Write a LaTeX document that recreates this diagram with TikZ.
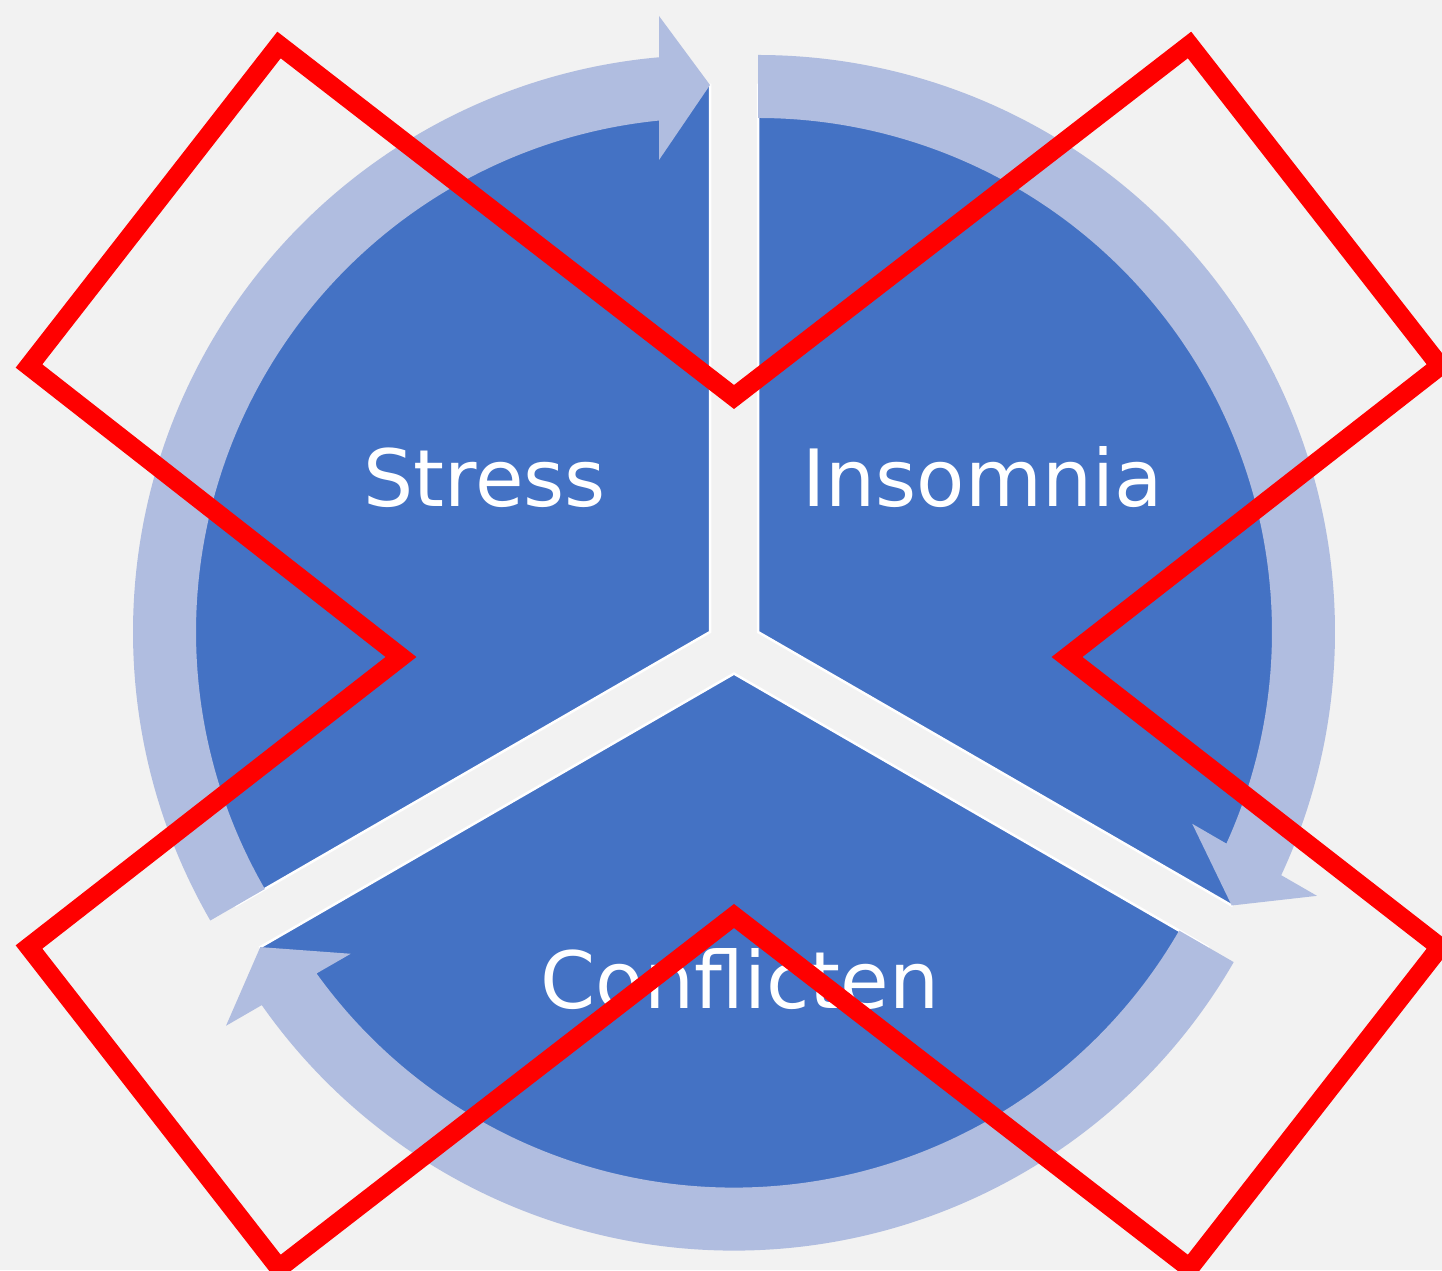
\documentclass[tikz,border=0pt]{standalone}
\usepackage{fontspec}
\setmainfont{DejaVu Sans}
\definecolor{segblue}{HTML}{4472C4}
\definecolor{ringblue}{HTML}{B0BDE0}
\definecolor{bggray}{HTML}{F2F2F2}
\begin{document}
\begin{tikzpicture}[x=1pt,y=1pt,
  segment/.style={fill=segblue, draw=white, line width=2.5pt, line join=miter},
  band/.style={fill=ringblue},
  lbl/.style={text=white, inner sep=0pt, anchor=base, font=\fontsize{79}{95}\selectfont},
  cross/.style={draw=red, line width=19pt, line join=miter, miter limit=10}]
\useasboundingbox (0,0) rectangle (1442,1270);
\clip (0,0) rectangle (1442,1270);
\fill[bggray] (0,0) rectangle (1442,1270);

% centres of the three exploded pie segments
\coordinate (cS) at (710,638);
\coordinate (cI) at (758,638);
\coordinate (cC) at (734,596.4);

% pie segments (each spans 120 degrees, drawn in a rotated local frame)
\foreach \c/\r in {cS/90, cI/-30, cC/210}{
  \begin{scope}[shift={(\c)}, rotate=\r]
    \filldraw[segment] (0,0) -- (0:547) arc[start angle=0, end angle=120, radius=547] -- cycle;
  \end{scope}}

% curved arrows around each segment (shaft and head as one outline)
\foreach \c/\r in {cS/90, cI/-30, cC/210}{
  \begin{scope}[shift={(\c)}, rotate=\r]
    \fill[band] (120:577) arc[start angle=120, end angle=5.07, radius=577]
      -- (616,51) -- (547,0) -- (472,51)
      -- (5.69:514) arc[start angle=5.69, end angle=120, radius=514] -- cycle;
  \end{scope}}

% labels
\node[lbl] (stress) at (484.5,763) {Stress};
\node[lbl] (insomnia) at (982.5,763) {Insomnia};
\node[lbl] (conflicten) at (740,262) {Conflicten};

% red cross outline over the whole cycle
\draw[cross] (279,1225) -- (734,873) -- (1189.5,1225) -- (1440,904) -- (1067,613)
  -- (1440,323) -- (1189.5,2) -- (734,354) -- (279,2) -- (29,323) -- (401,613)
  -- (29,904) -- cycle;
\end{tikzpicture}
\end{document}
